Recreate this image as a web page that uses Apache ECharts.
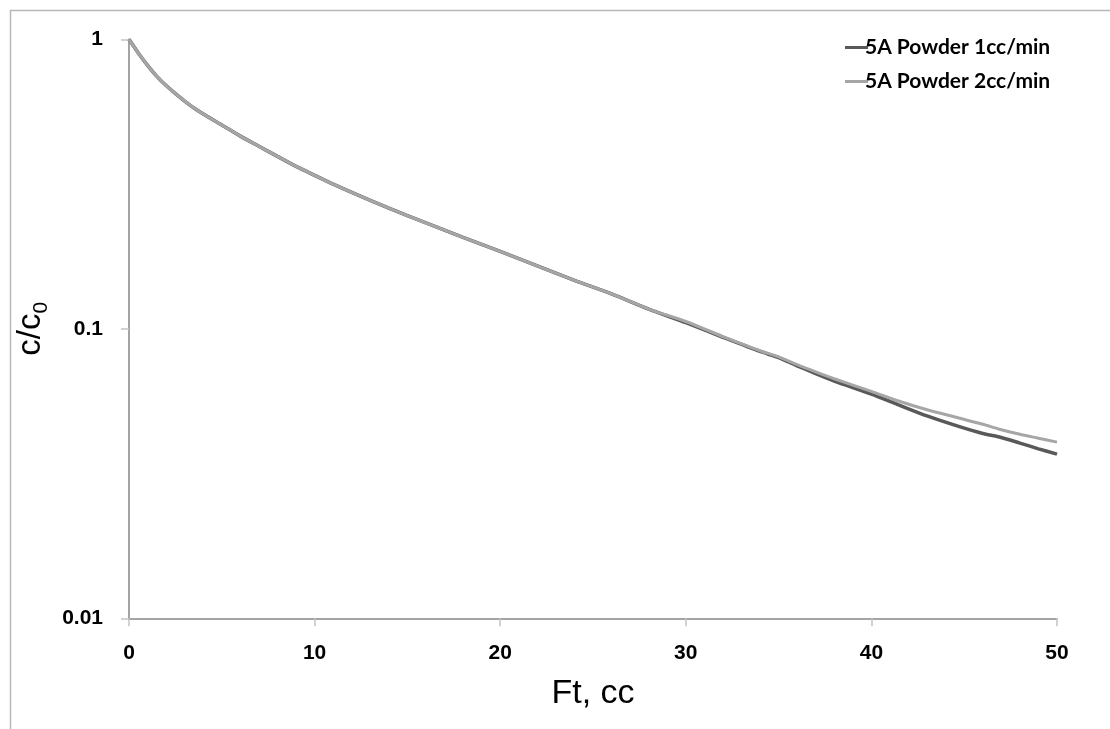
<!DOCTYPE html>
<html>
<head>
<meta charset="utf-8">
<script src="https://cdn.jsdelivr.net/npm/echarts@6/dist/echarts.min.js"></script>
<style>
html,body{margin:0;padding:0;background:#fff;}
#c{width:1110px;height:729px;}
</style>
</head>
<body>
<div id="c"></div>
<script>
// ---- data ----
const seriesNames = ['5A Powder 1cc/min', '5A Powder 2cc/min'];
const ftValues = [0, 0.5, 1, 1.5, 2, 2.5, 3, 3.5, 4, 5, 6, 7, 8, 9, 10, 11, 12, 14, 16, 18, 20, 22, 24, 26, 28, 30, 32, 34, 35, 36, 37, 38, 40, 41.5, 43, 44.7, 46, 46.9, 48, 49, 50];
const powder1cc = [1.000, 0.897, 0.813, 0.745, 0.692, 0.649, 0.612, 0.579, 0.552, 0.506, 0.463, 0.427, 0.394, 0.364, 0.339, 0.316, 0.296, 0.261, 0.232, 0.207, 0.185, 0.165, 0.147, 0.132, 0.117, 0.105, 0.0935, 0.0835, 0.0795, 0.0745, 0.0700, 0.0660, 0.0595, 0.0545, 0.0500, 0.0460, 0.0435, 0.0423, 0.0403, 0.0385, 0.0369];
const powder2cc = [1.000, 0.897, 0.813, 0.745, 0.692, 0.649, 0.612, 0.579, 0.552, 0.506, 0.463, 0.427, 0.394, 0.364, 0.339, 0.316, 0.296, 0.261, 0.232, 0.207, 0.185, 0.165, 0.147, 0.132, 0.117, 0.106, 0.0940, 0.0840, 0.0800, 0.0752, 0.0710, 0.0672, 0.0608, 0.0562, 0.0525, 0.0492, 0.0468, 0.0450, 0.0432, 0.0419, 0.0406];
const xTicks = [0, 10, 20, 30, 40, 50];
const yTicks = [0.01, 0.1, 1];

function pairs(xs, ys) { return xs.map((x, i) => [x, ys[i]]); }

const chart = echarts.init(document.getElementById('c'), null, {renderer: 'canvas'});
chart.setOption({
  backgroundColor: '#fff',
  animation: false,
  graphic: [{
    type: 'rect', left: 8, top: 8,
    shape: {width: 1200, height: 800},
    style: {fill: 'none', stroke: '#b8b8b8', lineWidth: 1.5},
    silent: true, z: -10
  }],
  grid: {left: 129, right: 53, top: 39.3, bottom: 110.7, containLabel: false},
  legend: {
    orient: 'vertical', left: 840, top: 31,
    itemWidth: 23, itemHeight: 3, itemGap: 11, icon: 'rect',
    textStyle: {fontFamily: 'Lato', fontWeight: 'bold', fontSize: 21, lineHeight: 23, color: '#000', padding: [0, 0, 0, -8]},
    data: seriesNames
  },
  xAxis: {
    type: 'value', min: xTicks[0], max: xTicks[xTicks.length - 1], interval: 10,
    name: 'Ft, cc', nameLocation: 'middle', nameGap: 58,
    nameTextStyle: {fontFamily: 'Liberation Sans', fontSize: 34, color: '#000'},
    axisLine: {lineStyle: {color: '#868686', width: 1.5}},
    axisTick: {show: true, inside: false, length: 8, lineStyle: {color: '#c4c4c4', width: 1.5}},
    axisLabel: {margin: 24, fontFamily: 'Liberation Sans', fontWeight: 'bold', fontSize: 21, color: '#000'},
    splitLine: {show: false}
  },
  yAxis: {
    type: 'log', logBase: 10, min: yTicks[0], max: yTicks[yTicks.length - 1],
    name: '{a|c/c}{b|0}', nameLocation: 'middle', nameGap: 70, nameRotate: 90,
    nameTextStyle: {
      fontFamily: 'Liberation Sans', color: '#000',
      rich: {
        a: {fontFamily: 'Liberation Sans', fontSize: 33, color: '#000', lineHeight: 40},
        b: {fontFamily: 'Liberation Sans', fontSize: 21, color: '#000', lineHeight: 40, verticalAlign: 'bottom', padding: [12, 0, 0, 0]}
      }
    },
    axisLine: {show: true, lineStyle: {color: '#868686', width: 1.5}},
    axisTick: {show: true, inside: false, length: 8, lineStyle: {color: '#c4c4c4', width: 1.5}},
    axisLabel: {margin: 26, fontFamily: 'Liberation Sans', fontWeight: 'bold', fontSize: 21, color: '#000',
                formatter: v => String(+v.toPrecision(3))},
    splitLine: {show: false},
    minorTick: {show: false}
  },
  series: [
    {
      name: seriesNames[0], type: 'line', showSymbol: false, symbol: 'none', smooth: 0.25,
      data: pairs(ftValues, powder1cc),
      lineStyle: {color: '#595959', width: 3.5},
      itemStyle: {color: '#595959'}, z: 2
    },
    {
      name: seriesNames[1], type: 'line', showSymbol: false, symbol: 'none', smooth: 0.25,
      data: pairs(ftValues, powder2cc),
      lineStyle: {color: '#a6a6a6', width: 3},
      itemStyle: {color: '#a6a6a6'}, z: 3
    }
  ]
});
</script>
</body>
</html>
